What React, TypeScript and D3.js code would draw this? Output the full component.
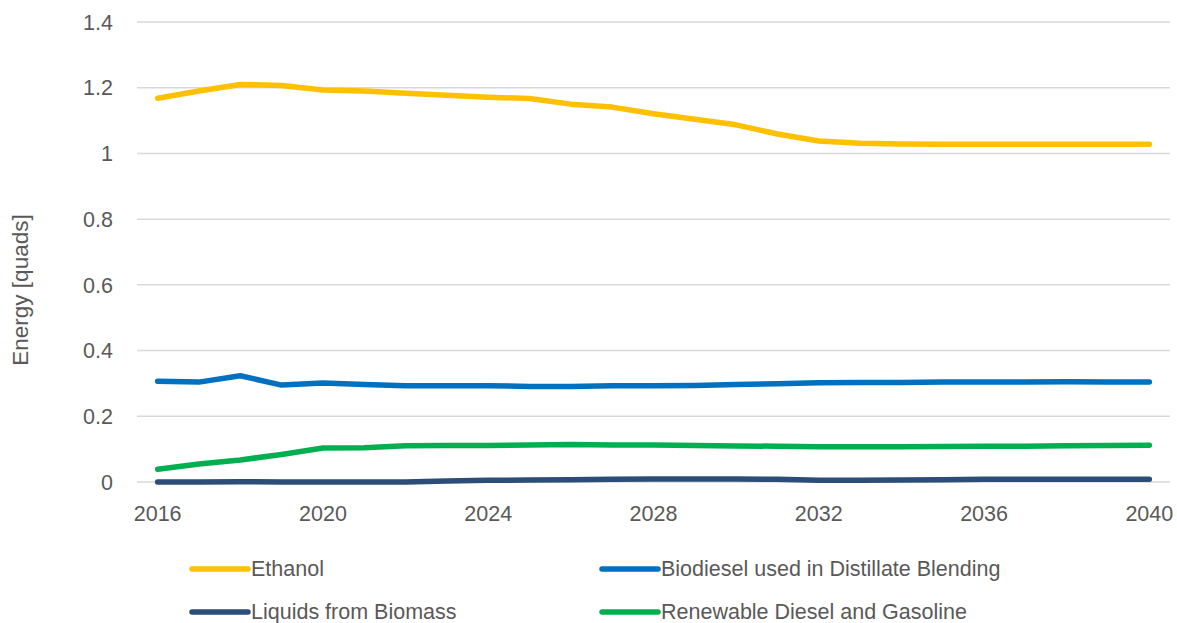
import React from "react";
import * as d3 from "d3";

const years = [2016,2017,2018,2019,2020,2021,2022,2023,2024,2025,2026,2027,2028,2029,2030,2031,2032,2033,2034,2035,2036,2037,2038,2039,2040];

const ethanol = [1.168,1.19,1.21,1.207,1.193,1.19,1.183,1.177,1.171,1.167,1.15,1.141,1.121,1.104,1.087,1.059,1.038,1.031,1.029,1.028,1.028,1.028,1.028,1.028,1.028];
const biodiesel = [0.307,0.304,0.3235,0.295,0.301,0.297,0.293,0.293,0.293,0.291,0.291,0.293,0.293,0.294,0.297,0.299,0.302,0.303,0.303,0.304,0.304,0.304,0.305,0.304,0.304];
const liquids = [0,0,0.001,0,0,0,0,0.003,0.005,0.006,0.007,0.008,0.009,0.009,0.009,0.008,0.005,0.005,0.006,0.007,0.008,0.008,0.008,0.008,0.008];
const renewable = [0.0386,0.055,0.067,0.084,0.1035,0.104,0.1105,0.111,0.111,0.1125,0.114,0.1125,0.1125,0.111,0.1095,0.109,0.1075,0.1075,0.1075,0.108,0.109,0.109,0.11,0.111,0.1115];

const yTicks = [0, 0.2, 0.4, 0.6, 0.8, 1, 1.2, 1.4];
const xTickYears = [2016, 2020, 2024, 2028, 2032, 2036, 2040];

const series = [
  { name: "Ethanol", values: ethanol, color: "#FFC000" },
  { name: "Biodiesel used in Distillate Blending", values: biodiesel, color: "#0070C0" },
  { name: "Liquids from Biomass", values: liquids, color: "#2C4D77" },
  { name: "Renewable Diesel and Gasoline", values: renewable, color: "#00B050" },
];

const FONT = "'Liberation Sans', Arial, sans-serif";
const TXT = "#595959";

export default function App() {
  const W = 1177, H = 623;
  const x = d3.scalePoint<number>().domain(years).range([137, 1170]).padding(0.5);
  const y = d3.scaleLinear().domain([0, 1.4]).range([482, 22]);
  const line = (vals: number[]) =>
    d3.line<number>().x((_, i) => x(years[i]) as number).y((v) => y(v))(vals) || "";

  const drawOrder = [2, 3, 1, 0];

  const legendPos = [
    { lx: 192, ly: 569 },
    { lx: 602, ly: 569 },
    { lx: 192, ly: 612 },
    { lx: 602, ly: 612 },
  ];

  return (
    <svg width={W} height={H} style={{ position: "absolute", left: 0, top: 0, background: "#fff" }}>
      <rect x={0} y={0} width={W} height={H} fill="#ffffff" />
      {yTicks.map((t) => (
        <g key={t}>
          <line x1={137} x2={1170} y1={y(t)} y2={y(t)} stroke="#d9d9d9" strokeWidth={1.5} />
          <text x={113} y={y(t)} dy="0.36em" textAnchor="end" fontFamily={FONT} fontSize={21.5} fill={TXT}>
            {String(t)}
          </text>
        </g>
      ))}
      {xTickYears.map((yr) => (
        <text key={yr} x={x(yr) as number} y={521} textAnchor="middle" fontFamily={FONT} fontSize={21.5} fill={TXT}>
          {yr}
        </text>
      ))}
      <text
        transform={`translate(28,290) rotate(-90)`}
        textAnchor="middle"
        fontFamily={FONT}
        fontSize={22.5}
        fill={TXT}
      >
        Energy [quads]
      </text>
      {drawOrder.map((i) => (
        <path
          key={series[i].name}
          d={line(series[i].values)}
          fill="none"
          stroke={series[i].color}
          strokeWidth={5.5}
          strokeLinecap="round"
          strokeLinejoin="round"
        />
      ))}
      {series.map((s, i) => (
        <g key={s.name}>
          <line
            x1={legendPos[i].lx}
            x2={legendPos[i].lx + 56}
            y1={legendPos[i].ly}
            y2={legendPos[i].ly}
            stroke={s.color}
            strokeWidth={5.5}
            strokeLinecap="round"
          />
          <text x={legendPos[i].lx + 59} y={legendPos[i].ly + 7} fontFamily={FONT} fontSize={21.5} fill={TXT}>
            {s.name}
          </text>
        </g>
      ))}
    </svg>
  );
}
